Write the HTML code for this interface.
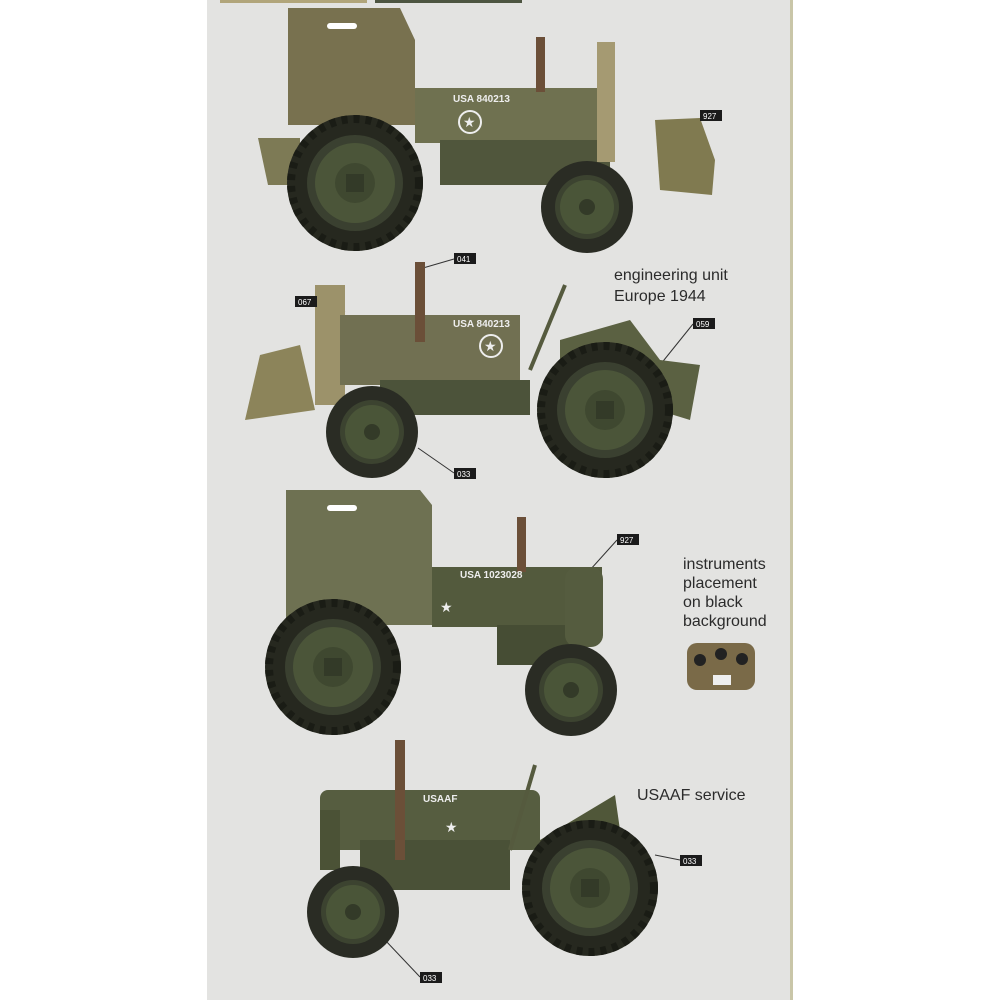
<!DOCTYPE html>
<html><head><style>
html,body{margin:0;padding:0;background:#fff}
svg{display:block}
text{font-family:"Liberation Sans",sans-serif}
</style></head><body>
<svg width="1000" height="1000" viewBox="0 0 1000 1000" xmlns="http://www.w3.org/2000/svg">
<defs>
<g id="bigtire"><circle r="68" fill="#26281f"/><circle r="64" fill="none" stroke="#1a1c15" stroke-width="8" stroke-dasharray="6 6"/><circle r="48" fill="#3a4030"/><circle r="40" fill="#4b5539"/><circle r="20" fill="#3f4830"/><rect x="-9" y="-9" width="18" height="18" fill="#333a28"/></g>
<g id="smalltire"><circle r="46" fill="#2a2c24"/><circle r="32" fill="#3c4330"/><circle r="27" fill="#4a5538"/><circle r="8" fill="#333a28"/></g>
<g id="tag"><rect x="0" y="0" width="22" height="11" fill="#1b1b1b"/></g>
</defs>
<rect width="1000" height="1000" fill="#fff"/>
<rect x="207" y="0" width="585" height="1000" fill="#e3e3e1"/>
<rect x="790" y="0" width="3" height="1000" fill="#c9c6a8"/>
<rect x="220" y="0" width="147" height="3" fill="#b1a57a"/>
<rect x="375" y="0" width="147" height="3" fill="#4d5541"/>

<g stroke="#333" stroke-width="1" fill="none">
<line x1="700" y1="120" x2="685" y2="150"/>
<line x1="454" y1="259" x2="423" y2="268"/>
<line x1="317" y1="302" x2="345" y2="312"/>
<line x1="693" y1="324" x2="660" y2="365"/>
<line x1="454" y1="473" x2="418" y2="448"/>
<line x1="617" y1="540" x2="590" y2="570"/>
<line x1="680" y1="860" x2="655" y2="855"/>
<line x1="420" y1="977" x2="385" y2="940"/>
</g>

<!-- Tractor 1 -->
<path d="M258 138 L300 138 L300 185 L268 185 Z" fill="#7d7a55"/>
<path d="M288 8 L400 8 L415 40 L415 125 L288 125 Z" fill="#78714f"/>
<rect x="327" y="23" width="30" height="6" rx="3" fill="#fff"/>
<rect x="415" y="88" width="190" height="55" fill="#6f7150"/>
<rect x="440" y="140" width="170" height="45" fill="#50563c"/>
<rect x="536" y="37" width="9" height="55" fill="#6b4f38"/>
<rect x="597" y="42" width="18" height="120" fill="#a59a72"/>
<path d="M655 120 L700 118 L715 160 L712 195 L660 190 Z" fill="#807a50"/>
<circle cx="470" cy="122" r="11" fill="none" stroke="#eee" stroke-width="2"/>
<text x="463" y="127" font-size="14" fill="#eee">★</text>
<text x="453" y="102" font-size="10" fill="#eee" font-weight="bold">USA 840213</text>
<use href="#bigtire" x="355" y="183"/>
<use href="#smalltire" x="587" y="207"/>
<use href="#tag" x="700" y="110"/><text x="703" y="119" font-size="8" fill="#fff">927</text>

<!-- Tractor 2 -->
<path d="M245 420 L260 355 L300 345 L315 410 Z" fill="#8c845a"/>
<rect x="315" y="285" width="30" height="120" fill="#9c926a"/>
<rect x="340" y="315" width="180" height="70" fill="#717052"/>
<rect x="380" y="380" width="150" height="35" fill="#4c533a"/>
<rect x="415" y="262" width="10" height="80" fill="#6b4f38"/>
<path d="M560 340 L630 320 L660 360 L700 365 L690 420 L560 380 Z" fill="#5b6142"/>
<line x1="530" y1="370" x2="565" y2="285" stroke="#555a3e" stroke-width="4"/>
<circle cx="491" cy="346" r="11" fill="none" stroke="#eee" stroke-width="2"/>
<text x="484" y="351" font-size="14" fill="#eee">★</text>
<text x="453" y="327" font-size="10" fill="#eee" font-weight="bold">USA 840213</text>
<use href="#bigtire" x="605" y="410"/>
<use href="#smalltire" x="372" y="432"/>
<use href="#tag" x="454" y="253"/><text x="457" y="262" font-size="8" fill="#fff">041</text>
<use href="#tag" x="295" y="296"/><text x="298" y="305" font-size="8" fill="#fff">067</text>
<use href="#tag" x="693" y="318"/><text x="696" y="327" font-size="8" fill="#fff">059</text>
<use href="#tag" x="454" y="468"/><text x="457" y="477" font-size="8" fill="#fff">033</text>
<text x="614" y="280" font-size="16" fill="#2b2b2b">engineering unit</text>
<text x="614" y="301" font-size="16" fill="#2b2b2b">Europe 1944</text>

<!-- Tractor 3 -->
<path d="M286 490 L420 490 L432 505 L432 625 L286 625 Z" fill="#6e7152"/>
<rect x="327" y="505" width="30" height="6" rx="3" fill="#fff"/>
<rect x="432" y="567" width="170" height="60" fill="#535a3d"/>
<rect x="497" y="625" width="80" height="40" fill="#464d34"/>
<rect x="565" y="567" width="38" height="80" rx="12" fill="#555c3f"/>
<rect x="517" y="517" width="9" height="55" fill="#6b4f38"/>
<text x="460" y="578" font-size="10" fill="#eee" font-weight="bold">USA 1023028</text>
<text x="440" y="612" font-size="14" fill="#eee">★</text>
<use href="#bigtire" x="333" y="667"/>
<use href="#smalltire" x="571" y="690"/>
<use href="#tag" x="617" y="534"/><text x="620" y="543" font-size="8" fill="#fff">927</text>
<text x="683" y="569" font-size="16" fill="#2b2b2b">instruments</text>
<text x="683" y="588" font-size="16" fill="#2b2b2b">placement</text>
<text x="683" y="607" font-size="16" fill="#2b2b2b">on black</text>
<text x="683" y="626" font-size="16" fill="#2b2b2b">background</text>
<rect x="687" y="643" width="68" height="47" rx="10" fill="#7a6a48"/>
<circle cx="700" cy="660" r="6" fill="#222"/><circle cx="721" cy="654" r="6" fill="#222"/><circle cx="742" cy="659" r="6" fill="#222"/>
<rect x="713" y="675" width="18" height="10" fill="#eee"/>

<!-- Tractor 4 -->
<rect x="320" y="790" width="220" height="60" rx="8" fill="#565d40"/>
<rect x="320" y="810" width="20" height="60" fill="#4b5236"/>
<rect x="360" y="840" width="150" height="50" fill="#4a5137"/>
<rect x="395" y="740" width="10" height="120" fill="#6b4f38"/>
<path d="M540 840 L590 810 L615 795 L620 830 L650 860 L540 860 Z" fill="#505739"/>
<line x1="510" y1="850" x2="535" y2="765" stroke="#555a3e" stroke-width="4"/>
<text x="423" y="802" font-size="10" fill="#eee" font-weight="bold">USAAF</text>
<text x="445" y="832" font-size="14" fill="#eee">★</text>
<use href="#bigtire" x="590" y="888"/>
<use href="#smalltire" x="353" y="912"/>
<use href="#tag" x="680" y="855"/><text x="683" y="864" font-size="8" fill="#fff">033</text>
<use href="#tag" x="420" y="972"/><text x="423" y="981" font-size="8" fill="#fff">033</text>
<text x="637" y="800" font-size="16" fill="#2b2b2b">USAAF service</text>
</svg>
</body></html>
